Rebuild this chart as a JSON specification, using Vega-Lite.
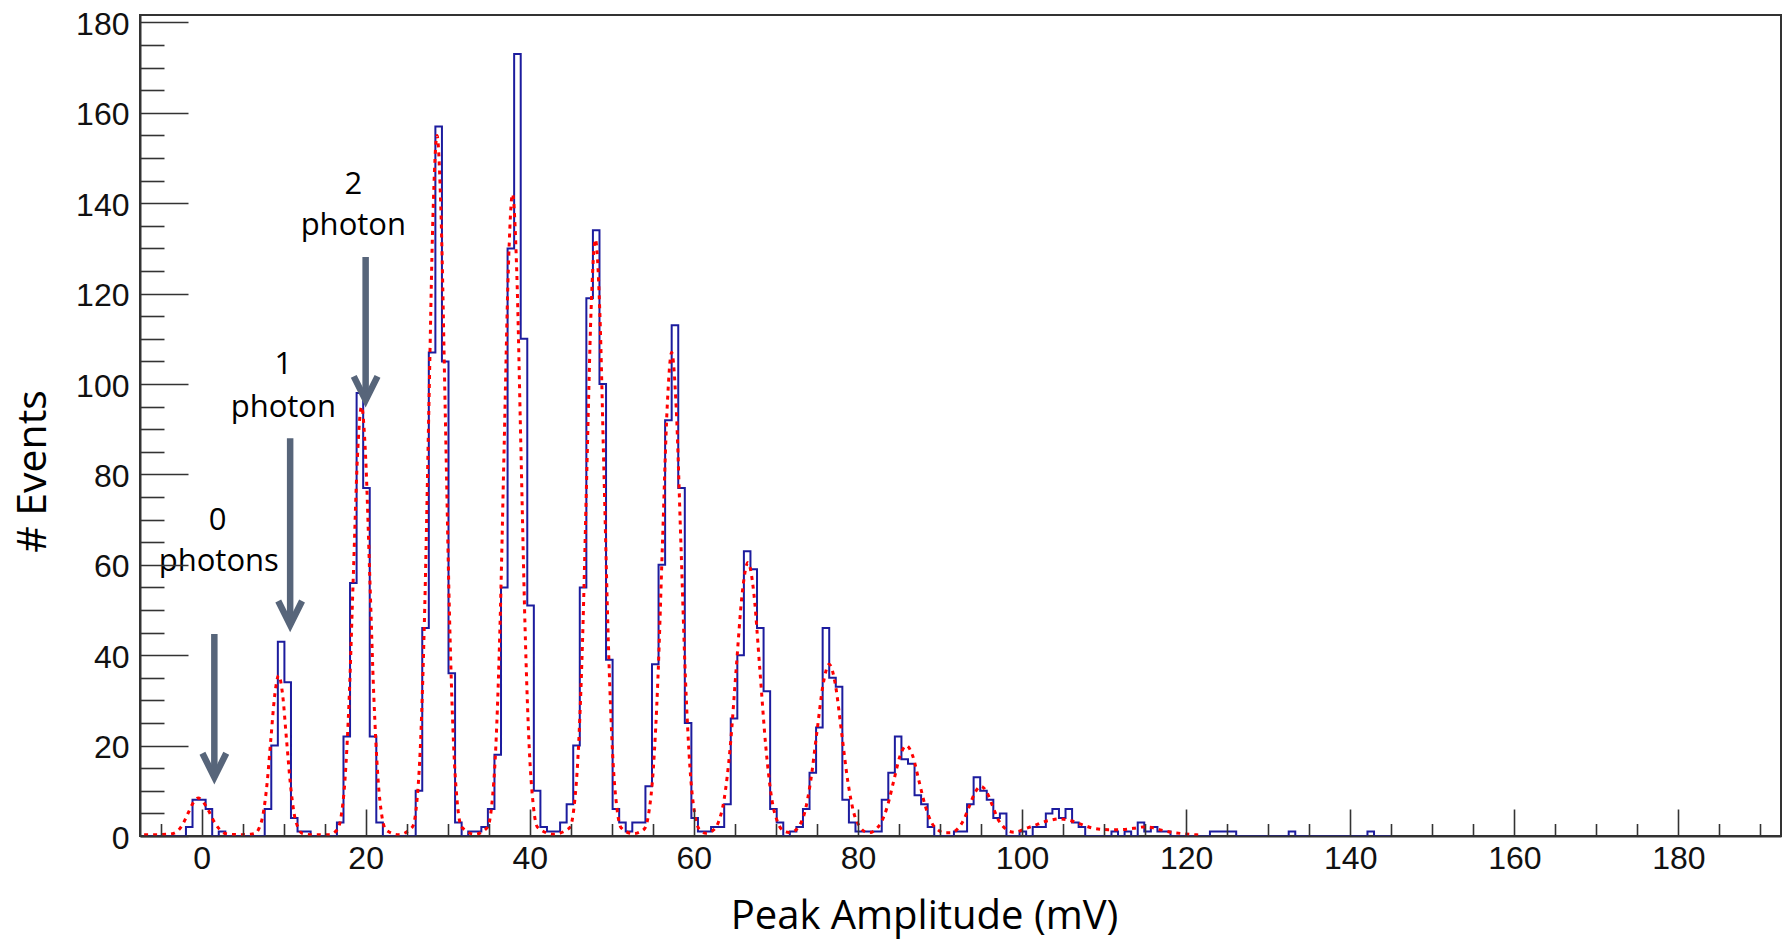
{
  "$schema": "https://vega.github.io/schema/vega-lite/v6.json",
  "width": 1641,
  "height": 821,
  "autosize": {"type": "none"},
  "padding": {"left": 140, "top": 15, "right": 6, "bottom": 105},
  "background": "white",
  "config": {"view": {"stroke": "#333333", "strokeWidth": 2}},
  "datasets": {
    "hist": [
      {"x":-7.1,"n":0},{"x":-6.3,"n":0},{"x":-5.5,"n":0},{"x":-4.7,"n":0},{"x":-3.9,"n":0},{"x":-3.1,"n":0},{"x":-2.3,"n":0},
      {"x":-1.5,"n":2},{"x":-0.7,"n":8},{"x":0.1,"n":8},{"x":0.9,"n":6},{"x":1.7,"n":0},{"x":2.5,"n":1},
      {"x":3.3,"n":0},{"x":4.1,"n":0},{"x":4.9,"n":0},{"x":5.7,"n":0},{"x":6.5,"n":0},{"x":7.3,"n":0},
      {"x":8.1,"n":6},{"x":8.9,"n":20},{"x":9.7,"n":43},{"x":10.5,"n":34},{"x":11.3,"n":4},{"x":12.1,"n":1},{"x":12.9,"n":1},
      {"x":13.7,"n":0},{"x":14.5,"n":0},{"x":15.3,"n":0},{"x":16.1,"n":0},
      {"x":16.9,"n":3},{"x":17.7,"n":22},{"x":18.5,"n":56},{"x":19.3,"n":98},{"x":20.1,"n":77},{"x":20.9,"n":22},{"x":21.7,"n":3},
      {"x":22.5,"n":0},{"x":23.3,"n":0},{"x":24.1,"n":0},{"x":24.9,"n":0},{"x":25.7,"n":0},
      {"x":26.5,"n":10},{"x":27.3,"n":46},{"x":28.1,"n":107},{"x":28.9,"n":157},{"x":29.7,"n":105},{"x":30.5,"n":36},{"x":31.3,"n":3},
      {"x":32.1,"n":0},{"x":32.9,"n":1},{"x":33.7,"n":1},{"x":34.5,"n":2},{"x":35.3,"n":6},{"x":36.1,"n":18},{"x":36.9,"n":55},
      {"x":37.7,"n":130},{"x":38.5,"n":173},{"x":39.3,"n":110},{"x":40.1,"n":51},{"x":40.9,"n":10},{"x":41.7,"n":2},{"x":42.5,"n":1},
      {"x":43.3,"n":1},{"x":44.1,"n":3},{"x":44.9,"n":7},{"x":45.7,"n":20},{"x":46.5,"n":55},{"x":47.3,"n":119},{"x":48.1,"n":134},
      {"x":48.9,"n":100},{"x":49.7,"n":39},{"x":50.5,"n":6},{"x":51.3,"n":3},{"x":52.1,"n":1},{"x":52.9,"n":3},{"x":53.7,"n":3},
      {"x":54.5,"n":11},{"x":55.3,"n":38},{"x":56.1,"n":60},{"x":56.9,"n":92},{"x":57.7,"n":113},{"x":58.5,"n":77},{"x":59.3,"n":25},
      {"x":60.1,"n":4},{"x":60.9,"n":1},{"x":61.7,"n":1},{"x":62.5,"n":2},{"x":63.3,"n":2},{"x":64.1,"n":7},{"x":64.9,"n":26},
      {"x":65.7,"n":40},{"x":66.5,"n":63},{"x":67.3,"n":59},{"x":68.1,"n":46},{"x":68.9,"n":32},{"x":69.7,"n":6},{"x":70.5,"n":3},
      {"x":71.3,"n":0},{"x":72.1,"n":1},{"x":72.9,"n":2},{"x":73.7,"n":6},{"x":74.5,"n":14},{"x":75.3,"n":24},{"x":76.1,"n":46},
      {"x":76.9,"n":35},{"x":77.7,"n":33},{"x":78.5,"n":8},{"x":79.3,"n":3},{"x":80.1,"n":1},{"x":80.9,"n":1},{"x":81.7,"n":1},
      {"x":82.5,"n":1},{"x":83.3,"n":8},{"x":84.1,"n":14},{"x":84.9,"n":22},{"x":85.7,"n":17},{"x":86.5,"n":16},{"x":87.3,"n":9},
      {"x":88.1,"n":7},{"x":88.9,"n":2},{"x":89.7,"n":0},{"x":90.5,"n":0},{"x":91.3,"n":0},{"x":92.1,"n":1},{"x":92.9,"n":1},
      {"x":93.7,"n":7},{"x":94.5,"n":13},{"x":95.3,"n":10},{"x":96.1,"n":8},{"x":96.9,"n":4},{"x":97.7,"n":5},{"x":98.5,"n":0},
      {"x":99.3,"n":0},{"x":100.1,"n":1},{"x":100.9,"n":0},{"x":101.7,"n":2},{"x":102.5,"n":2},{"x":103.3,"n":5},{"x":104.1,"n":6},
      {"x":104.9,"n":4},{"x":105.7,"n":6},{"x":106.5,"n":3},{"x":107.3,"n":2},{"x":108.1,"n":0},{"x":108.9,"n":0},{"x":109.7,"n":0},
      {"x":110.5,"n":0},{"x":111.3,"n":1},{"x":112.1,"n":0},{"x":112.9,"n":1},{"x":113.7,"n":0},{"x":114.5,"n":3},{"x":115.3,"n":1},
      {"x":116.1,"n":2},{"x":116.9,"n":1},{"x":117.7,"n":1},{"x":118.5,"n":0},{"x":119.3,"n":0},{"x":120.1,"n":0},{"x":120.9,"n":0},
      {"x":121.7,"n":0},{"x":122.5,"n":0},{"x":123.3,"n":1},{"x":124.1,"n":1},{"x":124.9,"n":1},{"x":125.7,"n":1},{"x":126.5,"n":0},
      {"x":127.3,"n":0},{"x":128.1,"n":0},{"x":128.9,"n":0},{"x":129.7,"n":0},{"x":130.5,"n":0},{"x":131.3,"n":0},{"x":132.1,"n":0},
      {"x":132.9,"n":1},{"x":133.7,"n":0},{"x":134.5,"n":0},{"x":135.3,"n":0},{"x":136.1,"n":0},{"x":136.9,"n":0},{"x":137.7,"n":0},
      {"x":138.5,"n":0},{"x":139.3,"n":0},{"x":140.1,"n":0},{"x":140.9,"n":0},{"x":141.7,"n":0},{"x":142.5,"n":1},{"x":143.3,"n":0},
      {"x":144.1,"n":0},{"x":144.9,"n":0}
    ],
    "fit": [
      {"x":-7.0,"y":0.3},{"x":-5.5,"y":0.3},{"x":-4.0,"y":0.4},{"x":-3.4,"y":0.6},{"x":-2.8,"y":1.3},{"x":-2.2,"y":2.9},{"x":-1.6,"y":5.2},
      {"x":-1.0,"y":7.4},{"x":-0.4,"y":8.4},{"x":0.2,"y":7.5},{"x":0.8,"y":5.8},{"x":1.4,"y":3.6},{"x":2.0,"y":1.9},{"x":2.6,"y":0.8},
      {"x":3.2,"y":0.4},{"x":4.5,"y":0.3},{"x":6.0,"y":0.4},{"x":6.55,"y":0.6},{"x":7.03,"y":1.8},{"x":7.5,"y":4.8},{"x":7.98,"y":11.5},
      {"x":8.45,"y":21.5},{"x":8.93,"y":31.3},{"x":9.4,"y":35.5},{"x":9.88,"y":31.3},{"x":10.35,"y":21.5},{"x":10.83,"y":11.5},
      {"x":11.3,"y":4.8},{"x":11.78,"y":1.8},{"x":12.25,"y":0.6},{"x":13.5,"y":0.3},{"x":15.5,"y":0.3},{"x":16.5,"y":1.3},{"x":17.0,"y":4.2},
      {"x":17.5,"y":12.9},{"x":18.0,"y":30.8},{"x":18.5,"y":57.6},{"x":19.0,"y":83.8},{"x":19.5,"y":95},{"x":20.0,"y":83.8},{"x":20.5,"y":57.6},
      {"x":21.0,"y":30.8},{"x":21.5,"y":12.9},{"x":22.0,"y":4.2},{"x":22.5,"y":1.3},{"x":24.0,"y":0.3},{"x":25.7,"y":2.0},{"x":26.2,"y":6.8},
      {"x":26.7,"y":21.0},{"x":27.2,"y":50.3},{"x":27.7,"y":94.0},{"x":28.2,"y":136.8},{"x":28.7,"y":155},{"x":29.2,"y":136.8},{"x":29.7,"y":94.0},
      {"x":30.2,"y":50.3},{"x":30.7,"y":21.0},{"x":31.2,"y":6.8},{"x":31.7,"y":2.0},{"x":33.3,"y":0.4},{"x":34.84,"y":1.9},{"x":35.35,"y":6.5},
      {"x":35.86,"y":19.5},{"x":36.37,"y":46.1},{"x":36.88,"y":86.1},{"x":37.39,"y":125.3},{"x":37.9,"y":142},{"x":38.41,"y":125.3},
      {"x":38.92,"y":86.1},{"x":39.43,"y":46.1},{"x":39.94,"y":19.5},{"x":40.45,"y":6.5},{"x":40.96,"y":1.9},{"x":42.9,"y":0.4},
      {"x":44.85,"y":1.8},{"x":45.38,"y":6.1},{"x":45.9,"y":18.2},{"x":46.43,"y":42.9},{"x":46.95,"y":80.1},{"x":47.48,"y":116.5},
      {"x":48.0,"y":132},{"x":48.53,"y":116.5},{"x":49.05,"y":80.1},{"x":49.58,"y":42.9},{"x":50.1,"y":18.2},{"x":50.63,"y":6.1},
      {"x":51.15,"y":1.8},{"x":52.6,"y":0.5},{"x":53.94,"y":1.5},{"x":54.5,"y":5.0},{"x":55.06,"y":14.8},{"x":55.62,"y":34.7},
      {"x":56.18,"y":64.9},{"x":56.74,"y":94.4},{"x":57.3,"y":107},{"x":57.86,"y":94.4},{"x":58.42,"y":64.9},{"x":58.98,"y":34.7},
      {"x":59.54,"y":14.8},{"x":60.1,"y":5.0},{"x":60.66,"y":1.5},{"x":61.5,"y":0.6},{"x":62.25,"y":1.1},{"x":62.98,"y":3.0},
      {"x":63.7,"y":8.2},{"x":64.43,"y":19.6},{"x":65.15,"y":36.7},{"x":65.88,"y":53.4},{"x":66.6,"y":60.5},{"x":67.33,"y":53.4},
      {"x":68.05,"y":36.7},{"x":68.78,"y":19.6},{"x":69.5,"y":8.2},{"x":70.23,"y":3.0},{"x":70.95,"y":1.1},{"x":71.6,"y":0.8},
      {"x":72.0,"y":0.9},{"x":72.75,"y":2.0},{"x":73.5,"y":5.1},{"x":74.25,"y":12.3},{"x":75.0,"y":23.0},{"x":75.75,"y":33.5},
      {"x":76.5,"y":38},{"x":77.25,"y":33.5},{"x":78.0,"y":23.0},{"x":78.75,"y":12.3},{"x":79.5,"y":5.1},{"x":80.25,"y":2.0},
      {"x":81.0,"y":0.9},{"x":81.6,"y":0.8},{"x":82.03,"y":1.3},{"x":82.8,"y":2.9},{"x":83.58,"y":6.5},{"x":84.35,"y":12.1},
      {"x":85.13,"y":17.7},{"x":85.9,"y":20},{"x":86.68,"y":17.7},{"x":87.45,"y":12.1},{"x":88.23,"y":6.5},{"x":89.0,"y":2.9},
      {"x":89.78,"y":1.3},{"x":90.55,"y":0.7},{"x":91.3,"y":0.7},{"x":92.2,"y":1.7},{"x":92.9,"y":3.6},{"x":93.6,"y":6.7},{"x":94.3,"y":9.7},
      {"x":95.0,"y":11},{"x":95.7,"y":9.7},{"x":96.4,"y":6.7},{"x":97.1,"y":3.6},{"x":97.8,"y":1.9},{"x":98.5,"y":1.0},{"x":99.1,"y":0.85},
      {"x":100.5,"y":1.7},{"x":101.6,"y":2.4},{"x":102.6,"y":3.1},{"x":103.5,"y":3.5},{"x":104.5,"y":3.8},{"x":105.5,"y":3.6},
      {"x":106.3,"y":3.2},{"x":107.5,"y":2.4},{"x":108.5,"y":1.8},{"x":109.5,"y":1.5},{"x":110.5,"y":1.4},{"x":112.0,"y":1.4},
      {"x":113.6,"y":1.7},{"x":114.8,"y":2.0},{"x":116.0,"y":1.8},{"x":117.0,"y":1.3},{"x":118.0,"y":0.9},{"x":119.7,"y":0.5},
      {"x":121.3,"y":0.25},{"x":122.0,"y":0.15}
    ],
    "shafts": [
      {"x":1.56,"y":44.7,"y2":13.0},
      {"x":10.8,"y":88.0,"y2":46.7},
      {"x":20.0,"y":128.1,"y2":96.4}
    ],
    "heads": [
      {"id":"a0","o":1,"x":0.11,"y":18.3},{"id":"a0","o":2,"x":1.56,"y":13.0},{"id":"a0","o":3,"x":3.01,"y":18.3},
      {"id":"a1","o":1,"x":9.35,"y":52.0},{"id":"a1","o":2,"x":10.8,"y":46.7},{"id":"a1","o":3,"x":12.25,"y":52.0},
      {"id":"a2","o":1,"x":18.55,"y":101.7},{"id":"a2","o":2,"x":20.0,"y":96.4},{"id":"a2","o":3,"x":21.45,"y":101.7}
    ],
    "notes": [
      {"t":"2","x":18.5,"y":142.1},{"t":"photon","x":18.5,"y":132.9},
      {"t":"1","x":9.97,"y":102.3},{"t":"photon","x":9.97,"y":92.8},
      {"t":"0","x":1.95,"y":67.6},{"t":"photons","x":2.1,"y":58.7}
    ]
  },
  "layer": [
    {
      "data": {"name": "hist"},
      "mark": {"type": "line", "interpolate": "step", "color": "#1c1c9e", "strokeWidth": 2},
      "encoding": {
        "x": {"field": "x", "type": "quantitative",
          "scale": {"domain": [-7.5, 192.5], "nice": false, "zero": false},
          "axis": {"orient": "bottom", "values": [0,20,40,60,80,100,120,140,160,180], "ticks": false, "domain": false, "grid": false,
            "labelFont": "Liberation Sans", "labelFontSize": 32, "labelColor": "#111111", "labelPadding": 7, "labelFlush": false, "labelOverlap": false,
            "title": "Peak Amplitude (mV)", "titleFont": "Open Sans", "titleFontSize": 40, "titleFontWeight": "normal", "titleColor": "#000000",
            "titleX": 784, "titleY": 92, "titleAlign": "center", "titleBaseline": "alphabetic"}},
        "y": {"field": "n", "type": "quantitative",
          "scale": {"domain": [0, 181.65], "nice": false, "zero": true},
          "axis": {"orient": "left", "values": [0,20,40,60,80,100,120,140,160,180], "ticks": false, "domain": false, "grid": false,
            "labelFont": "Liberation Sans", "labelFontSize": 32, "labelColor": "#111111", "labelPadding": 11, "labelFlush": false, "labelOverlap": false, "labelOffset": 2,
            "title": "# Events", "titleFont": "Open Sans", "titleFontSize": 41, "titleFontWeight": "normal", "titleColor": "#000000",
            "titleAngle": 270, "titleX": -95, "titleY": 456, "titleAlign": "center", "titleBaseline": "alphabetic"}}
      }
    },
    {
      "data": {"name": "fit"},
      "mark": {"type": "line", "interpolate": "monotone", "color": "#ff0000", "strokeWidth": 3, "strokeDash": [4, 5]},
      "encoding": {
        "x": {"field": "x", "type": "quantitative",
          "axis": {"orient": "bottom", "values": [0,20,40,60,80,100,120,140,160,180], "tickSize": -27, "tickWidth": 1.6, "tickColor": "#333333",
            "labels": false, "domain": true, "domainColor": "#333333", "domainWidth": 2, "grid": false, "title": null, "zindex": 1}},
        "y": {"field": "y", "type": "quantitative",
          "axis": {"orient": "left", "values": [0,20,40,60,80,100,120,140,160,180], "tickSize": -48, "tickWidth": 1.6, "tickColor": "#333333",
            "labels": false, "domain": true, "domainColor": "#333333", "domainWidth": 2, "grid": false, "title": null, "zindex": 1}}
      }
    },
    {
      "data": {"name": "shafts"},
      "mark": {"type": "rule", "color": "#57657a", "strokeWidth": 6.5, "strokeCap": "butt"},
      "encoding": {
        "x": {"field": "x", "type": "quantitative",
          "axis": {"orient": "bottom", "values": [-5,5,10,15,25,30,35,45,50,55,65,70,75,85,90,95,105,110,115,125,130,135,145,150,155,165,170,175,185,190],
            "tickSize": -12.5, "tickWidth": 1.6, "tickColor": "#333333", "labels": false, "domain": false, "grid": false, "title": null, "zindex": 1}},
        "y": {"field": "y", "type": "quantitative",
          "axis": {"orient": "left", "values": [5,10,15,25,30,35,45,50,55,65,70,75,85,90,95,105,110,115,125,130,135,145,150,155,165,170,175],
            "tickSize": -24, "tickWidth": 1.6, "tickColor": "#333333", "labels": false, "domain": false, "grid": false, "title": null, "zindex": 1}},
        "y2": {"field": "y2"}
      }
    },
    {
      "data": {"name": "heads"},
      "mark": {"type": "line", "color": "#57657a", "strokeWidth": 6.5, "strokeJoin": "miter", "strokeCap": "butt"},
      "encoding": {
        "x": {"field": "x", "type": "quantitative", "axis": null},
        "y": {"field": "y", "type": "quantitative", "axis": null},
        "detail": {"field": "id"},
        "order": {"field": "o"}
      }
    },
    {
      "data": {"name": "notes"},
      "mark": {"type": "text", "font": "Open Sans", "fontSize": 31, "color": "#000000", "align": "center", "baseline": "alphabetic"},
      "encoding": {
        "x": {"field": "x", "type": "quantitative", "axis": null},
        "y": {"field": "y", "type": "quantitative", "axis": null},
        "text": {"field": "t"}
      }
    }
  ],
  "resolve": {"axis": {"x": "independent", "y": "independent"}}
}
